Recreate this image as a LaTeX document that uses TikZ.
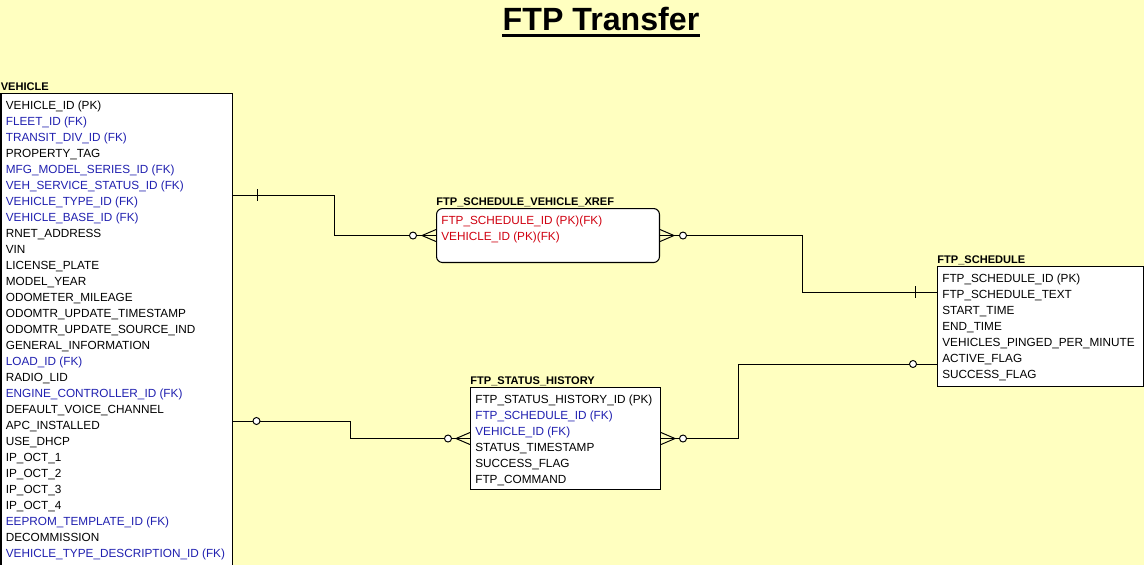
\documentclass[tikz,border=0pt]{standalone}
\usepackage{fontspec}
\setmainfont{Liberation Sans}
\definecolor{paper}{RGB}{255,255,192}
\definecolor{fkblue}{RGB}{32,32,176}
\definecolor{pkred}{RGB}{208,0,16}
\tikzset{
  entity/.style={draw, fill=white, anchor=north west, inner sep=0pt, line width=0.6pt},
  entitytitle/.style={anchor=base west, inner sep=0pt, font=\bfseries\fontsize{6.3}{7}\selectfont},
  field/.style={anchor=base west, inner sep=0pt, yshift=-0.08cm},
  fkey/.style={field, text=fkblue},
  pkey/.style={field, text=pkred},
  link/.style={line width=0.55pt},
  optional/.style={circle, draw, fill=white, inner sep=0pt, minimum size=0.14cm, line width=0.55pt},
}
\begin{document}
\begin{tikzpicture}[x=0.02cm,y=-0.02cm,font=\fontsize{6.7}{8}\selectfont]
    \fill[paper] (0,0) rectangle (1144,565);
    \useasboundingbox (0,0) rectangle (1144,565);
    \clip (0,0) rectangle (1144,565);
    \node (title) at (601,30) [anchor=base, inner sep=0pt, font=\bfseries\fontsize{18.3}{20}\selectfont] {FTP Transfer};
    \draw [line width=1.6pt] ([yshift=-0.11cm]title.base west) -- ([yshift=-0.11cm]title.base east);
        % vehicle table
        \begin{scope}[shift={(0.5,93)}]
            \node (vehicletitle) at (0,-3) [entitytitle] {VEHICLE};
            \node (vehicle) at (0,0) [entity, minimum width=4.63cm, minimum height=9.9cm] {};
            \node (v1) at (5,12) [field] {VEHICLE\_ID (PK)};
            \node (v2) at (5,28) [fkey] {FLEET\_ID (FK)};
            \node (v3) at (5,44) [fkey] {TRANSIT\_DIV\_ID (FK)};
            \node (v4) at (5,60) [field] {PROPERTY\_TAG};
            \node (v5) at (5,76) [fkey] {MFG\_MODEL\_SERIES\_ID (FK)};
            \node (v6) at (5,92) [fkey] {VEH\_SERVICE\_STATUS\_ID (FK)};
            \node (v7) at (5,108) [fkey] {VEHICLE\_TYPE\_ID (FK)};
            \node (v8) at (5,124) [fkey] {VEHICLE\_BASE\_ID (FK)};
            \node (v9) at (5,140) [field] {RNET\_ADDRESS};
            \node (v10) at (5,156) [field] {VIN};
            \node (v11) at (5,172) [field] {LICENSE\_PLATE};
            \node (v12) at (5,188) [field] {MODEL\_YEAR};
            \node (v13) at (5,204) [field] {ODOMETER\_MILEAGE};
            \node (v14) at (5,220) [field] {ODOMTR\_UPDATE\_TIMESTAMP};
            \node (v15) at (5,236) [field] {ODOMTR\_UPDATE\_SOURCE\_IND};
            \node (v16) at (5,252) [field] {GENERAL\_INFORMATION};
            \node (v17) at (5,268) [fkey] {LOAD\_ID (FK)};
            \node (v18) at (5,284) [field] {RADIO\_LID};
            \node (v19) at (5,300) [fkey] {ENGINE\_CONTROLLER\_ID (FK)};
            \node (v20) at (5,316) [field] {DEFAULT\_VOICE\_CHANNEL};
            \node (v21) at (5,332) [field] {APC\_INSTALLED};
            \node (v22) at (5,348) [field] {USE\_DHCP};
            \node (v23) at (5,364) [field] {IP\_OCT\_1};
            \node (v24) at (5,380) [field] {IP\_OCT\_2};
            \node (v25) at (5,396) [field] {IP\_OCT\_3};
            \node (v26) at (5,412) [field] {IP\_OCT\_4};
            \node (v27) at (5,428) [fkey] {EEPROM\_TEMPLATE\_ID (FK)};
            \node (v28) at (5,444) [field] {DECOMMISSION};
            \node (v29) at (5,460) [fkey] {VEHICLE\_TYPE\_DESCRIPTION\_ID (FK)};
        \end{scope}
        % xref table
        \begin{scope}[shift={(436,208)}]
            \node (xreftitle) at (0,-3) [entitytitle] {FTP\_SCHEDULE\_VEHICLE\_XREF};
            \node (xref) at (0,0) [entity, rounded corners=0.12cm, minimum width=4.46cm, minimum height=1.08cm] {};
            \node (x1) at (5,12) [pkey] {FTP\_SCHEDULE\_ID (PK)(FK)};
            \node (x2) at (5,28) [pkey] {VEHICLE\_ID (PK)(FK)};
        \end{scope}
        % schedule table
        \begin{scope}[shift={(937,266)}]
            \node (scheduletitle) at (0,-3) [entitytitle] {FTP\_SCHEDULE};
            \node (schedule) at (0,0) [entity, minimum width=4.12cm, minimum height=2.4cm] {};
            \node (s1) at (5,12) [field] {FTP\_SCHEDULE\_ID (PK)};
            \node (s2) at (5,28) [field] {FTP\_SCHEDULE\_TEXT};
            \node (s3) at (5,44) [field] {START\_TIME};
            \node (s4) at (5,60) [field] {END\_TIME};
            \node (s5) at (5,76) [field] {VEHICLES\_PINGED\_PER\_MINUTE};
            \node (s6) at (5,92) [field] {ACTIVE\_FLAG};
            \node (s7) at (5,108) [field] {SUCCESS\_FLAG};
        \end{scope}
        % status history table
        \begin{scope}[shift={(470,387)}]
            \node (historytitle) at (0,-3) [entitytitle] {FTP\_STATUS\_HISTORY};
            \node (history) at (0,0) [entity, minimum width=3.8cm, minimum height=2.04cm] {};
            \node (h1) at (5,12) [field] {FTP\_STATUS\_HISTORY\_ID (PK)};
            \node (h2) at (5,28) [fkey] {FTP\_SCHEDULE\_ID (FK)};
            \node (h3) at (5,44) [fkey] {VEHICLE\_ID (FK)};
            \node (h4) at (5,60) [field] {STATUS\_TIMESTAMP};
            \node (h5) at (5,76) [field] {SUCCESS\_FLAG};
            \node (h6) at (5,92) [field] {FTP\_COMMAND};
        \end{scope}
    % relationships
    \coordinate (vx) at (232.5,195);
    \coordinate (vh) at (232.5,421);
    \coordinate (sx) at (937,292);
    \coordinate (sh) at (937,364);
    \coordinate (bend1) at (334,0);
    \coordinate (bend2) at (802,0);
    \coordinate (bend3) at (350,0);
    \coordinate (bend4) at (738,0);
      \draw [link] (vx) -| (bend1 |- xref.west) -- (xref.west);
      \draw [link] (xref.east) -| (bend2 |- sx) -- (sx);
      \draw [link] (vh) -| (bend3 |- history.west) -- (history.west);
      \draw [link] (history.east) -| (bend4 |- sh) -- (sh);
      % one ends
      \draw [link] ([xshift=0.5cm,yshift=0.12cm]vx) -- ([xshift=0.5cm,yshift=-0.12cm]vx);
      \draw [link] ([xshift=-0.44cm,yshift=0.12cm]sx) -- ([xshift=-0.44cm,yshift=-0.12cm]sx);
      % many ends
      \draw [link] ([xshift=-0.28cm]xref.west) -- ([yshift=0.12cm]xref.west)
                   ([xshift=-0.28cm]xref.west) -- ([yshift=-0.12cm]xref.west);
      \draw [link] ([xshift=0.28cm]xref.east) -- ([yshift=0.12cm]xref.east)
                   ([xshift=0.28cm]xref.east) -- ([yshift=-0.12cm]xref.east);
      \draw [link] ([xshift=-0.28cm]history.west) -- ([yshift=0.12cm]history.west)
                   ([xshift=-0.28cm]history.west) -- ([yshift=-0.12cm]history.west);
      \draw [link] ([xshift=0.28cm]history.east) -- ([yshift=0.12cm]history.east)
                   ([xshift=0.28cm]history.east) -- ([yshift=-0.12cm]history.east);
      % optional ends
      \node (o1) at ([xshift=-0.46cm]xref.west) [optional] {};
      \node (o2) at ([xshift=0.46cm]xref.east) [optional] {};
      \node (o3) at ([xshift=0.48cm]vh) [optional] {};
      \node (o4) at ([xshift=-0.44cm]history.west) [optional] {};
      \node (o5) at ([xshift=0.44cm]history.east) [optional] {};
      \node (o6) at ([xshift=-0.48cm]sh) [optional] {};
\end{tikzpicture}
\end{document}
